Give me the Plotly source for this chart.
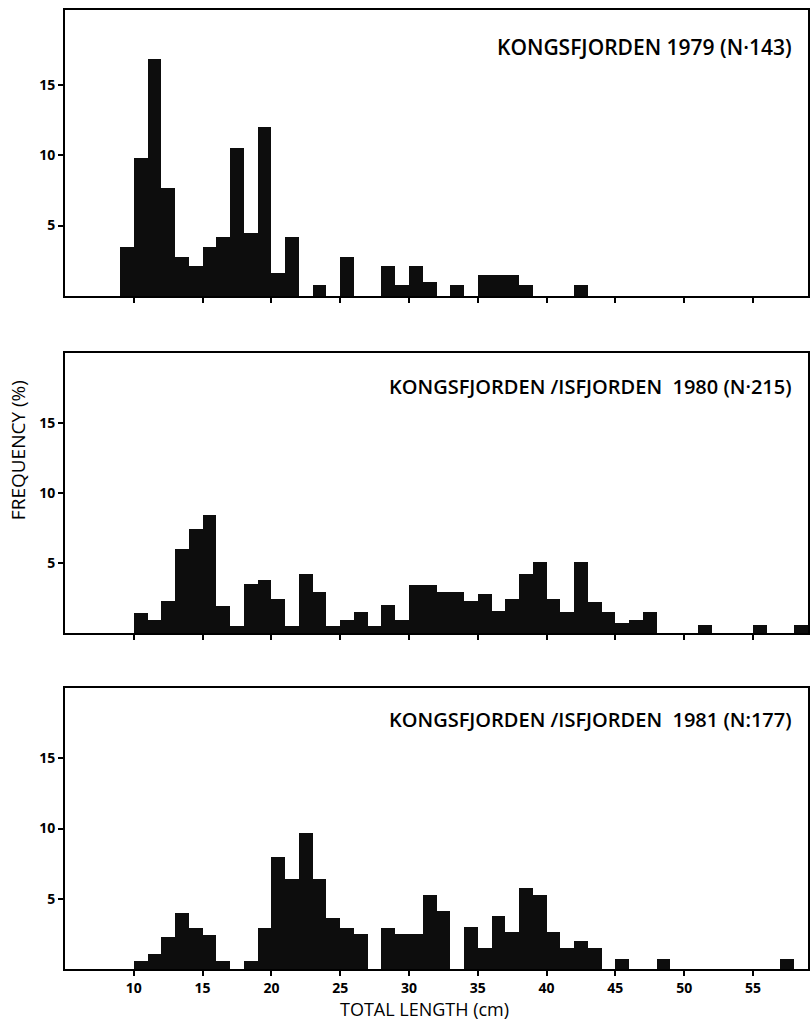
import plotly.graph_objects as go

# ---------------- data (bin left edge in cm, frequency in %) ----------------
bins_1979 = list(range(9, 43))
freq_1979 = [3.5, 9.8, 16.8, 7.7, 2.8, 2.1, 3.5, 4.2, 10.5, 4.5, 12.0, 1.6, 4.2, 0, 0.8, 0,
             2.8, 0, 0, 2.1, 0.8, 2.1, 1.0, 0, 0.8, 0, 1.5, 1.5, 1.5, 0.8, 0, 0, 0, 0.8]

bins_1980 = list(range(10, 59))
freq_1980 = [1.4, 0.9, 2.3, 6.0, 7.4, 8.4, 1.9, 0.5, 3.5, 3.8, 2.4, 0.5, 4.2, 2.9, 0.5, 0.9,
             1.5, 0.5, 2.0, 0.9, 3.4, 3.4, 2.9, 2.9, 2.3, 2.8, 1.6, 2.4, 4.2, 5.1, 2.4, 1.5,
             5.1, 2.2, 1.5, 0.7, 0.9, 1.5, 0, 0, 0, 0.6, 0, 0, 0, 0.6, 0, 0, 0.6]

bins_1981 = list(range(10, 58))
freq_1981 = [0.6, 1.1, 2.3, 4.0, 2.9, 2.4, 0.6, 0, 0.6, 2.9, 8.0, 6.4, 9.7, 6.4, 3.6, 2.9,
             2.5, 0, 2.9, 2.5, 2.5, 5.3, 4.1, 0, 3.0, 1.5, 3.8, 2.6, 5.8, 5.3, 2.6, 1.5,
             2.0, 1.5, 0, 0.7, 0, 0, 0.7, 0, 0, 0, 0, 0, 0, 0, 0, 0.7]

titles = ["KONGSFJORDEN 1979 (N·143)",
          "KONGSFJORDEN /ISFJORDEN  1980 (N·215)",
          "KONGSFJORDEN /ISFJORDEN  1981 (N:177)"]
x_ticks = [10, 15, 20, 25, 30, 35, 40, 45, 50, 55]
y_ticks = [5, 10, 15]
x_title = "TOTAL LENGTH (cm)"
y_title = "FREQUENCY (%)"

panels = [(bins_1979, freq_1979), (bins_1980, freq_1980), (bins_1981, freq_1981)]

# ---------------- layout geometry ----------------
W, H = 812, 1031
ML, MR, MT, MB = 65, 2, 10, 62
plot_h = H - MT - MB
def py(pix):  # pixel y -> paper fraction
    return (H - MB - pix) / plot_h
def px(pix):
    return (pix - ML) / (W - ML - MR)

domains = [(py(296), 1.0), (py(633), py(353)), (0.0, py(688))]
yranges = [[0, 20.3], [0, 20], [0, 20]]
title_y = [47, 387, 719]
title_size = [21, 20, 20]

FONT = "Open Sans"
fig = go.Figure()
for i, (b, f) in enumerate(panels):
    n = "" if i == 0 else str(i + 1)
    fig.add_trace(go.Bar(
        x=[v + 0.5 for v in b], y=f, width=1.0,
        marker=dict(color="#0d0d0d", line=dict(width=0)),
        xaxis="x" + n, yaxis="y" + n, showlegend=False,
    ))
    fig.update_layout(**{
        "xaxis" + n: dict(
            domain=[0, 1], anchor="y" + n, range=[5, 59],
            tickvals=x_ticks, ticks="outside", ticklen=5, tickwidth=2, tickcolor="black",
            showticklabels=(i == 2), showline=True, linewidth=2, linecolor="black",
            mirror=True, showgrid=False, zeroline=False,
            tickfont=dict(family=FONT, size=14, color="black", weight="bold"),
        ),
        "yaxis" + n: dict(
            domain=list(domains[i]), anchor="x" + n, range=yranges[i],
            tickvals=y_ticks, ticks="outside", ticklen=5, tickwidth=2, tickcolor="black",
            showline=True, linewidth=2, linecolor="black", mirror=True,
            showgrid=False, zeroline=False,
            tickfont=dict(family=FONT, size=14, color="black", weight="bold"),
        ),
    })
    fig.add_annotation(
        text=titles[i], xref="paper", yref="paper", x=px(796), y=py(title_y[i]),
        xanchor="right", yanchor="middle", showarrow=False,
        font=dict(family=FONT, size=title_size[i], color="black", weight=600),
    )

fig.add_annotation(text=x_title, xref="paper", yref="paper", x=px(425), y=py(1009),
                   xanchor="center", yanchor="middle", showarrow=False,
                   font=dict(family=FONT, size=18, color="black", weight="normal"))
fig.add_annotation(text=y_title, xref="paper", yref="paper", x=px(18), y=py(450),
                   xanchor="center", yanchor="middle", showarrow=False, textangle=-90,
                   font=dict(family=FONT, size=19, color="black", weight="normal"))

fig.update_layout(
    width=W, height=H, margin=dict(l=ML, r=MR, t=MT, b=MB),
    paper_bgcolor="white", plot_bgcolor="white", bargap=0,
)
fig.write_html("out.html")
